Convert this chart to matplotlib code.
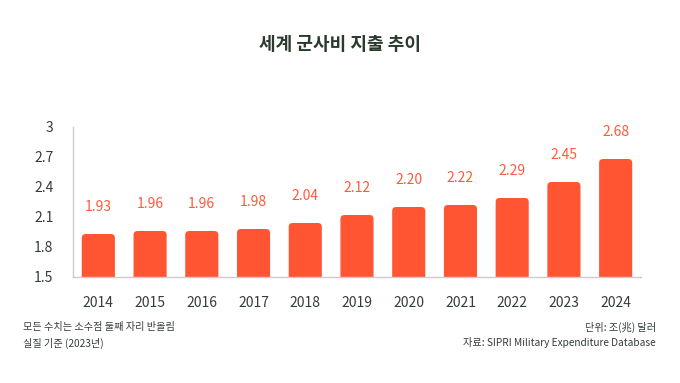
import matplotlib
matplotlib.use("Agg")
import matplotlib.pyplot as plt
from matplotlib.patches import FancyBboxPatch

plt.rcParams['font.family'] = ['Noto Sans CJK KR', 'DejaVu Sans']

years = ["2014", "2015", "2016", "2017", "2018", "2019", "2020", "2021", "2022", "2023", "2024"]
values = [1.93, 1.96, 1.96, 1.98, 2.04, 2.12, 2.20, 2.22, 2.29, 2.45, 2.68]
yticks = [1.5, 1.8, 2.1, 2.4, 2.7, 3.0]
ytick_labels = ["1.5", "1.8", "2.1", "2.4", "2.7", "3"]
title = "세계 군사비 지출 추이"
note_left = ["모든 수치는 소수점 둘째 자리 반올림", "실질 기준 (2023년)"]
note_right = ["단위: 조(兆) 달러", "자료: SIPRI Military Expenditure Database"]

bar_color = "#FF5533"
label_color = "#FF5A3C"
text_color = "#343d37"

fig = plt.figure(figsize=(6.8, 3.83), dpi=100)
ax = fig.add_axes([73/680, 1-277/383, (641-73)/680, (277-127)/383])
ax.set_xlim(-0.49, 10.49)
ax.set_ylim(1.5, 3.0)

width = 0.64
px_x = (641-73) / 10.98
px_y = 150 / 1.5
r = 4 / px_x
aspect = (1/px_y) / (1/px_x)
for i, v in enumerate(values):
    bottom = 1.3
    p = FancyBboxPatch((i - width/2, bottom), width, v - bottom,
                       boxstyle=f"round,pad=0,rounding_size={r}",
                       mutation_aspect=aspect,
                       facecolor=bar_color, edgecolor="none", clip_on=True)
    ax.add_patch(p)
    ax.text(i, v + 0.27, f"{v:.2f}", ha="center", va="center",
            color=label_color, fontsize=10)

ax.set_xticks(range(len(years)))
ax.set_xticklabels(years, fontsize=10, color=text_color)
ax.set_yticks(yticks)
ax.set_yticklabels(ytick_labels, fontsize=10, color=text_color)
ax.tick_params(length=0)
ax.tick_params(axis='x', pad=14)
ax.tick_params(axis='y', pad=14)
for s in ["top", "right"]:
    ax.spines[s].set_visible(False)
for s in ["left", "bottom"]:
    ax.spines[s].set_color("#cccccc")
    ax.spines[s].set_linewidth(1)

fig.text(0.5, 1-45/383, title, ha="center", va="center", fontsize=13,
         fontweight="bold", color="#2b3a2e")
fs = 7.3
fig.text(23/680, 1-327/383, note_left[0], ha="left", va="center", fontsize=fs, color=text_color)
fig.text(23/680, 1-343/383, note_left[1], ha="left", va="center", fontsize=fs, color=text_color)
fig.text(656/680, 1-327/383, note_right[0], ha="right", va="center", fontsize=fs, color=text_color)
fig.text(656/680, 1-343/383, note_right[1], ha="right", va="center", fontsize=fs, color=text_color)

fig.savefig("out.png", dpi=100)
